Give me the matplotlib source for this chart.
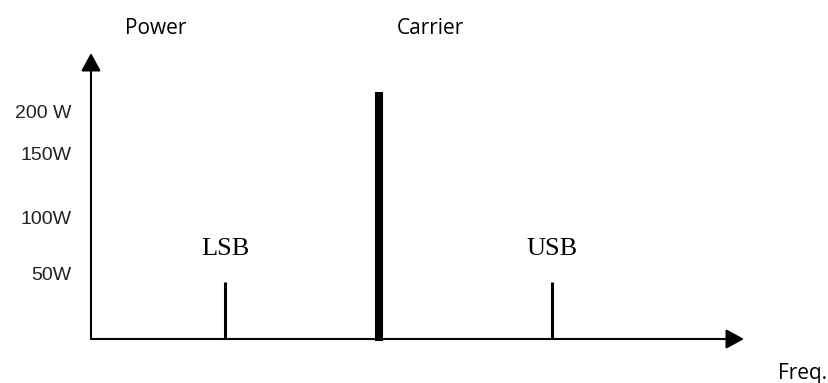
import matplotlib
matplotlib.use("Agg")
import matplotlib.pyplot as plt

# spectrum of an AM signal (schematic units, not to scale)
freq_pos = [134, 288, 461]          # LSB, carrier, USB
powers = [57, 247, 57]
line_w = [2.2, 5.8, 2.2]
band_names = ["LSB", "", "USB"]

tick_pos = [228, 185, 121, 66]
tick_labels = ["200 W", "150W", "100W", "50W"]

W, H = 829, 383
fig = plt.figure(figsize=(W / 100, H / 100), dpi=100)
# axes box in pixels: x 91..744, y 53..339 (from top)
ax = fig.add_axes([91 / W, (H - 339) / H, (744 - 91) / W, (339 - 53) / H])
ax.set_xlim(0, 653)
ax.set_ylim(0, 286)
for s in ax.spines.values():
    s.set_visible(False)

# axes with arrow heads
arr = dict(arrowstyle="-|>,head_length=0.55,head_width=0.3", mutation_scale=20,
           lw=1.5, color="black", shrinkA=0, shrinkB=0)
ax.annotate("", xy=(0, 286), xytext=(0, 0), arrowprops=arr, annotation_clip=False)
ax.annotate("", xy=(653, 0), xytext=(0, 0), arrowprops=arr, annotation_clip=False)

# spectral lines
for x, p, lw in zip(freq_pos, powers, line_w):
    ax.vlines(x, -1.5 if lw > 3 else 0, p, color="black", lw=lw, clip_on=False)

serif = ["Liberation Serif", "DejaVu Serif"]
sans = ["Open Sans", "Noto Sans", "DejaVu Sans"]
for x, name in zip(freq_pos, band_names):
    if name:
        ax.text(x, 90, name, ha="center", va="center", fontsize=19, family=serif)

ax.set_xticks([])
ax.set_yticks(tick_pos)
ax.set_yticklabels(tick_labels, fontsize=14, family=["Liberation Sans", "DejaVu Sans"],
                   color="#222222")
ax.tick_params(axis="y", length=0, pad=14)

# captions
ax.text(65, 311, "Power", ha="center", va="center", fontsize=15,
        family=sans, clip_on=False)
ax.text(339, 311, "Carrier", ha="center", va="center", fontsize=15,
        family=sans, clip_on=False)
ax.text(687, -35, "Freq.", ha="left", va="center", fontsize=15,
        family=sans, clip_on=False)

fig.savefig("out.png", dpi=100)
